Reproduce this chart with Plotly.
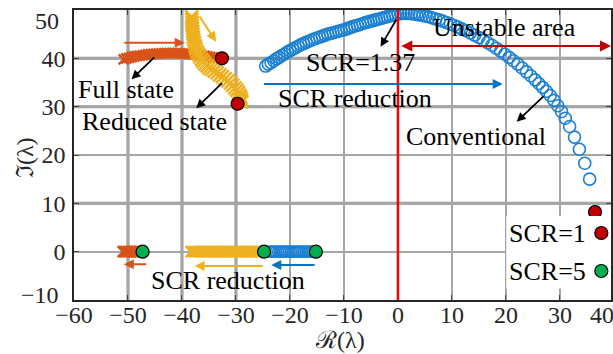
import plotly.graph_objects as go

# ---------------- data ----------------
# Conventional control: eigenvalue trajectory for decreasing SCR
conv_x = [-24.5, -24.0, -23.5, -23.0, -22.5, -22.0, -21.5, -21.0, -20.5, -20.0,
          -19.5, -19.0, -18.5, -18.0, -17.5, -17.0, -16.5, -16.0, -15.5, -15.0,
          -14.5, -14.0, -13.5, -13.0, -12.5, -12.0, -11.5, -11.0, -10.5, -10.0,
          -9.5, -9.0, -8.5, -8.0, -7.5, -7.0, -6.5, -6.0, -5.5, -5.0,
          -4.5, -4.0, -3.5, -3.0, -2.5, -2.0, -1.5, -1.0, -0.5,
          0.0, 0.5, 1.0, 1.5, 2.0, 2.5, 3.0, 3.5, 4.0, 4.6, 5.2, 5.8, 6.4, 7.0, 7.6,
          8.3, 9.0, 9.7, 10.4, 11.1, 11.8, 12.6, 13.4, 14.2, 15.0, 15.8, 16.6, 17.4,
          18.2, 19.0, 19.8, 20.6, 21.4, 22.2, 23.0, 23.8, 24.6, 25.4, 26.1, 26.8,
          27.5, 28.2, 28.9, 29.6, 30.3, 31.0, 31.8, 32.7, 33.6, 34.6, 35.5, 36.5]
conv_y = [38.4, 38.8, 39.1, 39.5, 39.9, 40.2, 40.6, 40.9, 41.3, 41.6,
          41.9, 42.2, 42.5, 42.8, 43.05, 43.3, 43.55, 43.8, 44.0, 44.2,
          44.4, 44.6, 44.8, 45.0, 45.15, 45.3, 45.45, 45.6, 45.75, 45.9,
          46.1, 46.3, 46.5, 46.7, 46.85, 47.0, 47.2, 47.4, 47.55, 47.7,
          47.85, 48.0, 48.15, 48.3, 48.45, 48.6, 48.75, 48.9, 49.05,
          49.2, 49.25, 49.3, 49.3, 49.3, 49.25, 49.2, 49.1, 49.0, 48.85, 48.7, 48.55, 48.35, 48.15, 47.95,
          47.7, 47.4, 47.1, 46.8, 46.45, 46.1, 45.7, 45.25, 44.8, 44.3, 43.8, 43.25, 42.7,
          42.1, 41.5, 40.85, 40.2, 39.5, 38.8, 38.0, 37.2, 36.4, 35.55, 34.8, 34.0,
          33.2, 32.3, 31.3, 30.2, 29.0, 27.6, 25.9, 23.7, 21.2, 18.3, 15.0, 8.2]

# Conventional control: real eigenvalue
conv_real_x = [-23.8, -23.4, -23.0, -22.6, -22.2, -21.8, -21.4, -21.0, -20.6, -20.2,
               -19.8, -19.4, -19.0, -18.6, -18.2, -17.8, -17.4, -17.0, -16.6, -16.2, -15.8]
conv_real_y = [0.0] * len(conv_real_x)

# Full-state feedback
full_x = [-50.8, -50.3, -49.8, -49.3, -48.8, -48.3, -47.8, -47.3, -46.8, -46.3,
          -45.8, -45.3, -44.8, -44.3, -43.8, -43.3, -42.8, -42.3, -41.8, -41.3,
          -40.8, -40.3, -39.8, -39.3, -38.8, -38.3, -37.8, -37.3, -36.8, -36.3,
          -35.8, -35.3, -34.8, -34.3, -33.8, -33.3]
full_y = [39.8, 40.0, 40.1, 40.25, 40.4, 40.5, 40.55, 40.6, 40.7, 40.8,
          40.85, 40.9, 40.95, 41.0, 41.05, 41.1, 41.1, 41.1, 41.1, 41.1,
          41.1, 41.05, 41.0, 41.0, 40.95, 40.9, 40.85, 40.8, 40.7, 40.6,
          40.5, 40.4, 40.3, 40.2, 40.15, 40.1]
full_real_x = [-50.9, -50.6, -50.3, -50.0, -49.7, -49.4, -49.1, -48.8, -48.5, -48.2, -47.9]
full_real_y = [0.0] * len(full_real_x)

# Reduced-state feedback
red_x = [-38.2, -38.2, -38.15, -38.1, -38.05, -38.0, -37.95, -37.9, -37.8, -37.7,
         -37.55, -37.4, -37.2, -36.95, -36.7, -36.4, -36.1, -35.75, -35.35, -34.95,
         -34.5, -34.0, -33.5, -33.0, -32.5, -32.0, -31.5, -31.0, -30.6, -30.2,
         -29.85, -29.55, -29.3, -29.1, -29.0, -28.9]
red_y = [48.6, 48.0, 47.4, 46.8, 46.2, 45.6, 45.0, 44.4, 43.8, 43.2,
         42.6, 42.0, 41.4, 40.85, 40.3, 39.8, 39.3, 38.85, 38.45, 38.05,
         37.7, 37.35, 37.0, 36.6, 36.2, 35.8, 35.35, 34.9, 34.4, 33.9,
         33.4, 32.9, 32.4, 31.9, 31.4, 31.0]
red_real_x = [-38.3, -37.9, -37.5, -37.1, -36.7, -36.3, -35.9, -35.5, -35.1, -34.7,
              -34.3, -33.9, -33.5, -33.1, -32.7, -32.3, -31.9, -31.5, -31.1, -30.7,
              -30.3, -29.9, -29.5, -29.1, -28.7, -28.3, -27.9, -27.5, -27.1, -26.7,
              -26.3, -25.9, -25.5]
red_real_y = [0.0] * len(red_real_x)

# SCR = 1 end points and SCR = 5 start points
scr1_x = [-32.6, -29.7, 36.5]
scr1_y = [40.0, 30.6, 8.2]
scr5_x = [-47.3, -24.8, -15.2]
scr5_y = [0.0, 0.0, 0.0]

x_ticks = [-60, -50, -40, -30, -20, -10, 0, 10, 20, 30]
y_ticks = [0, 10, 20, 30, 40]
y_ticks_all = [-10, 0, 10, 20, 30, 40, 50]

# ---------------- styling ----------------
C_BLUE = "#1b80d2"
C_BLUE_ARR = "#0a72c0"
C_ORANGE = "#d95319"
C_YELLOW = "#edb120"
C_RED = "#c00000"
C_GREEN = "#00b050"
SERIF = "Liberation Serif"
TXT = 26
TICK = 24
TCOL = "#262626"

fig = go.Figure()

fig.add_trace(go.Scatter(x=conv_x, y=conv_y, mode="markers",
                         marker=dict(symbol="circle-open", size=12, color=C_BLUE,
                                     line=dict(width=1.6, color=C_BLUE))))
fig.add_trace(go.Scatter(x=conv_real_x, y=conv_real_y, mode="markers",
                         marker=dict(symbol="circle-open", size=11, color=C_BLUE,
                                     line=dict(width=1.6, color=C_BLUE))))
fig.add_trace(go.Scatter(x=full_x, y=full_y, mode="markers",
                         marker=dict(symbol="x-thin-open", size=10, color=C_ORANGE,
                                     line=dict(width=2.5, color=C_ORANGE))))
fig.add_trace(go.Scatter(x=full_real_x, y=full_real_y, mode="markers",
                         marker=dict(symbol="x-thin-open", size=11, color=C_ORANGE,
                                     line=dict(width=2.5, color=C_ORANGE))))
fig.add_trace(go.Scatter(x=red_x, y=red_y, mode="markers",
                         marker=dict(symbol="x-thin-open", size=13, color=C_YELLOW,
                                     line=dict(width=2.5, color=C_YELLOW))))
fig.add_trace(go.Scatter(x=red_real_x, y=red_real_y, mode="markers",
                         marker=dict(symbol="x-thin-open", size=11, color=C_YELLOW,
                                     line=dict(width=2.5, color=C_YELLOW))))
fig.add_trace(go.Scatter(x=scr1_x, y=scr1_y, mode="markers",
                         marker=dict(symbol="circle", size=13, color=C_RED,
                                     line=dict(width=1.2, color="black"))))
fig.add_trace(go.Scatter(x=scr5_x, y=scr5_y, mode="markers",
                         marker=dict(symbol="circle", size=13, color=C_GREEN,
                                     line=dict(width=1.2, color="black"))))

shapes = []
# stability boundary
shapes.append(dict(type="line", xref="x", yref="paper", x0=0, x1=0, y0=0, y1=1,
                   line=dict(color="#ff0000", width=2.5), layer="above"))
# heavier grid lines
for gx in [-50, -40, -30]:
    shapes.append(dict(type="line", xref="x", yref="paper", x0=gx, x1=gx, y0=0, y1=1,
                       line=dict(color="#8c8c8c", width=3), layer="below"))
for gy in [40, 30, 10]:
    shapes.append(dict(type="line", xref="paper", yref="y", x0=0, x1=1, y0=gy, y1=gy,
                       line=dict(color="#8c8c8c", width=3), layer="below"))
# legend box
shapes.append(dict(type="rect", xref="paper", yref="paper", x0=0.805, x1=1.0,
                   y0=0.04, y1=0.29, fillcolor="white", line=dict(width=0), layer="above"))
for py, col in [(0.231, C_RED), (0.100, C_GREEN)]:
    shapes.append(dict(type="circle", xref="paper", yref="paper", xsizemode="pixel",
                       ysizemode="pixel", xanchor=0.982, yanchor=py,
                       x0=-6.5, x1=6.5, y0=-6.5, y1=6.5, fillcolor=col,
                       line=dict(color="black", width=1.2), layer="above"))

ann = []
def label(x, y, t, **kw):
    d = dict(x=x, y=y, xref="x", yref="y", text=t, showarrow=False,
             xanchor="center", yanchor="middle",
             font=dict(family=SERIF, size=TXT, color="black"))
    d.update(kw)
    ann.append(d)

def arrow(x0, y0, x1, y1, color, width=2, head=2, size=1.0, side="end"):
    ann.append(dict(x=x1, y=y1, ax=x0, ay=y0, xref="x", yref="y", axref="x", ayref="y",
                    text="", showarrow=True, arrowhead=head, arrowsize=size,
                    arrowwidth=width, arrowcolor=color, arrowside=side,
                    startarrowhead=head, startarrowsize=size))

label(-50.3, 33.6, "Full state")
label(-45.0, 27.0, "Reduced state")
label(-7.0, 39.2, "SCR=1.37")
label(-8.0, 31.6, "SCR reduction")
label(14.4, 23.9, "Conventional")
label(19.7, 46.3, "Unstable area")
label(-31.4, -5.9, "SCR reduction")

arrow(-44.87, 40.48, -49.35, 35.66, "black", 1.8)
arrow(-32.32, 35.16, -37.36, 29.66, "black", 1.8)
arrow(-0.15, 48.28, -3.22, 42.41, "black", 1.8)
arrow(27.23, 32.41, 21.99, 26.89, "black", 1.8)
arrow(-50.96, 43.2, -39.5, 43.2, C_ORANGE, 2)
arrow(-36.93, 48.97, -33.67, 43.44, C_YELLOW, 2)
arrow(-25.1, 34.7, 19.4, 34.7, C_BLUE_ARR, 2)
arrow(0.35, 42.55, 39.46, 42.55, C_RED, 2.2, side="end+start")
arrow(-46.34, -2.62, -50.77, -2.62, C_ORANGE, 2)
arrow(-24.75, -2.97, -37.67, -2.97, C_YELLOW, 2)
arrow(-15.16, -2.76, -23.46, -2.76, C_BLUE_ARR, 2)

def paper_text(x, y, t, size, color, **kw):
    d = dict(x=x, y=y, xref="paper", yref="paper", text=t, showarrow=False,
             xanchor="center", yanchor="middle",
             font=dict(family=SERIF, size=size, color=color))
    d.update(kw)
    ann.append(d)

# legend texts
paper_text(0.958, 0.231, "SCR=1", TXT, "black", xanchor="right")
paper_text(0.958, 0.100, "SCR=5", TXT, "black", xanchor="right")
# edge tick labels (shifted inward as in the original)
paper_text(0.984, -0.053, "40", TICK, TCOL)
paper_text(-0.025, 0.962, "50", TICK, TCOL, xanchor="right")
paper_text(-0.025, 0.018, "\u221210", TICK, TCOL, xanchor="right")
# axis titles
paper_text(-0.091, 0.49, "ℑ(λ)", TICK, TCOL, textangle=-90)
paper_text(0.495, -0.138, "ℛ(λ)", TICK, TCOL)

fig.update_layout(
    width=613, height=354,
    margin=dict(l=74, r=0, t=10, b=54),
    paper_bgcolor="white", plot_bgcolor="white",
    showlegend=False,
    shapes=shapes, annotations=ann,
    font=dict(family=SERIF, size=TICK, color=TCOL),
)
fig.update_xaxes(range=[-60, 39.46], tickvals=x_ticks, ticks="inside", ticklen=5,
                 showline=True, linecolor=TCOL, linewidth=1.5, mirror="ticks",
                 showgrid=True, gridcolor="#a6a6a6", gridwidth=1.5, zeroline=False,
                 ticklabelstandoff=-8,
                 tickfont=dict(family=SERIF, size=TICK, color=TCOL))
fig.update_yaxes(range=[-10, 50], tickvals=y_ticks, ticks="inside", ticklen=5,
                 showline=True, linecolor=TCOL, linewidth=1.5, mirror="ticks",
                 showgrid=True, gridcolor="#a6a6a6", gridwidth=1.5, zeroline=False,
                 ticklabelstandoff=2,
                 tickfont=dict(family=SERIF, size=TICK, color=TCOL))

fig.write_html("out.html")
